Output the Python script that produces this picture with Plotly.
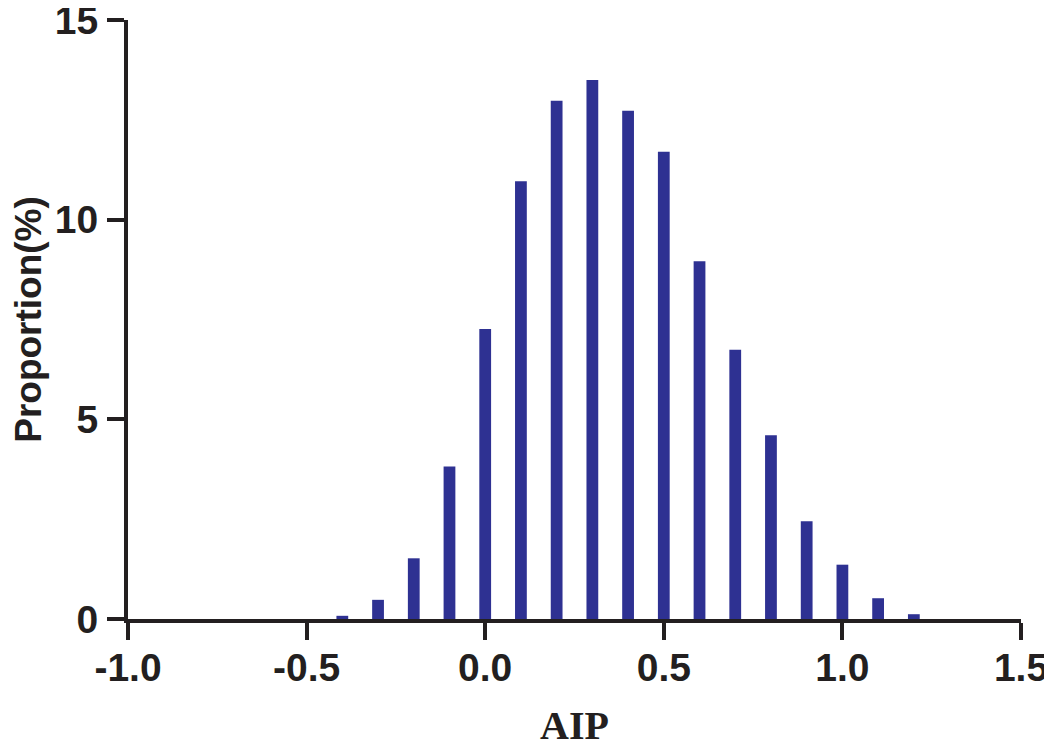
import plotly.graph_objects as go

# AIP bins (bar centres) and proportion of subjects in each bin (%)
aip_bins = [-0.4, -0.3, -0.2, -0.1, 0.0, 0.1, 0.2, 0.3, 0.4, 0.5,
            0.6, 0.7, 0.8, 0.9, 1.0, 1.1, 1.2]
proportion = [0.08, 0.48, 1.52, 3.82, 7.26, 10.96, 12.98, 13.5, 12.73, 11.7,
              8.96, 6.74, 4.6, 2.45, 1.36, 0.52, 0.12]

x_tickvals = [-1.0, -0.5, 0.0, 0.5, 1.0, 1.5]
x_ticktext = ["-1.0", "-0.5", "0.0", "0.5", "1.0", "1.5"]
y_tickvals = [0, 5, 10, 15]

INK = "#231f20"
BAR = "#2e3192"
SANS = "Liberation Sans, Arial, sans-serif"
SERIF = "Liberation Serif, Times New Roman, serif"

_AXIS = {
    "showgrid": False,
    "zeroline": False,
    "showline": True,
    "linecolor": INK,
    "linewidth": 4,
    "ticks": "outside",
    "ticklen": 17,
    "tickwidth": 4,
    "tickcolor": INK,
    "automargin": False,
    "ticklabeloverflow": "allow",
    "tickfont": {"family": SANS, "size": 39, "color": INK, "weight": "bold"},
}

fig = go.Figure(
    go.Bar(
        x=aip_bins,
        y=proportion,
        width=0.033,
        marker={"color": BAR, "line": {"width": 0}},
    )
)

# the page body adds an 8px offset, so margins are shifted to compensate
fig.update_layout(
    width=1052,
    height=744,
    paper_bgcolor="white",
    plot_bgcolor="white",
    showlegend=False,
    margin={"l": 120, "r": 39, "t": 12, "b": 133},
    xaxis={
        **_AXIS,
        "range": [-1.0, 1.5],
        "tickvals": x_tickvals,
        "ticktext": x_ticktext,
        "ticklabelstandoff": -6,
        "title": {
            "text": "AIP",
            "font": {"family": SERIF, "size": 40, "color": INK, "weight": "bold"},
            "standoff": 24,
        },
    },
    yaxis={
        **_AXIS,
        "range": [0, 15],
        "tickvals": y_tickvals,
        "ticklabelstandoff": 1,
        "title": {
            "text": "Proportion(%)",
            "font": {"family": SANS, "size": 37, "color": INK, "weight": "bold"},
            "standoff": 14,
        },
    },
)

fig.write_html("out.html")
